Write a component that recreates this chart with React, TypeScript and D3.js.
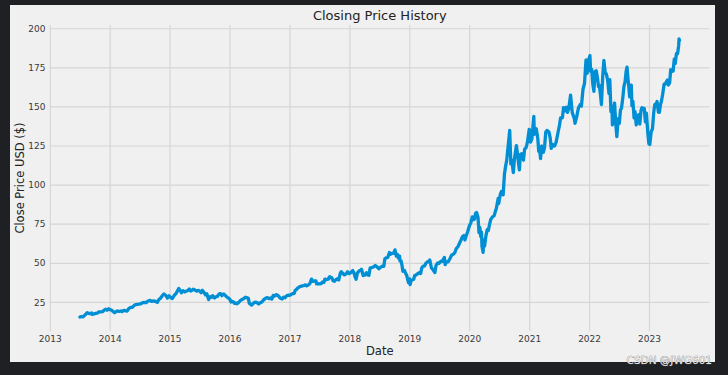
import React from "react";
import * as d3 from "d3";

const dates: string[] = [
"2013-07-01","2013-07-10","2013-07-19","2013-07-26","2013-08-05","2013-08-14","2013-08-23","2013-08-30","2013-09-10","2013-09-13","2013-09-25","2013-10-04","2013-10-16","2013-10-25","2013-11-05","2013-11-15","2013-11-29","2013-12-05","2013-12-13","2013-12-23","2013-12-31",
"2014-01-08","2014-01-17","2014-01-28","2014-02-05","2014-02-14","2014-02-25","2014-03-07","2014-03-14","2014-03-25","2014-04-03","2014-04-14","2014-04-24","2014-05-06","2014-05-16","2014-05-28","2014-06-06","2014-06-17","2014-06-27","2014-07-09","2014-07-18","2014-07-30","2014-08-08","2014-08-20","2014-09-02","2014-09-10","2014-09-22","2014-10-03","2014-10-15","2014-10-24","2014-11-05","2014-11-14","2014-11-25","2014-12-05","2014-12-16","2014-12-26",
"2015-01-06","2015-01-15","2015-01-22","2015-01-28","2015-02-06","2015-02-13","2015-02-23","2015-03-05","2015-03-11","2015-03-20","2015-03-31","2015-04-10","2015-04-20","2015-04-28","2015-05-07","2015-05-15","2015-05-22","2015-06-02","2015-06-12","2015-06-23","2015-07-01","2015-07-09","2015-07-17","2015-07-28","2015-08-05","2015-08-13","2015-08-24","2015-08-31","2015-09-09","2015-09-17","2015-09-29","2015-10-08","2015-10-16","2015-10-28","2015-11-05","2015-11-13","2015-11-24","2015-12-03","2015-12-14","2015-12-22","2015-12-31",
"2016-01-07","2016-01-14","2016-01-22","2016-01-28","2016-02-05","2016-02-11","2016-02-22","2016-03-04","2016-03-15","2016-03-24","2016-04-04","2016-04-14","2016-04-22","2016-04-28","2016-05-06","2016-05-12","2016-05-24","2016-06-03","2016-06-13","2016-06-24","2016-07-05","2016-07-15","2016-07-27","2016-08-05","2016-08-16","2016-08-26","2016-09-06","2016-09-12","2016-09-21","2016-09-30","2016-10-10","2016-10-19","2016-10-26","2016-11-04","2016-11-14","2016-11-23","2016-12-02","2016-12-13","2016-12-22","2016-12-30",
"2017-01-09","2017-01-19","2017-01-27","2017-02-01","2017-02-10","2017-02-17","2017-02-27","2017-03-08","2017-03-16","2017-03-27","2017-04-05","2017-04-13","2017-04-24","2017-05-03","2017-05-12","2017-05-19","2017-05-31","2017-06-08","2017-06-12","2017-06-23","2017-06-30","2017-07-10","2017-07-19","2017-07-27","2017-08-02","2017-08-10","2017-08-21","2017-08-31","2017-09-12","2017-09-21","2017-09-28","2017-10-06","2017-10-16","2017-10-25","2017-11-03","2017-11-09","2017-11-20","2017-11-29","2017-12-08","2017-12-18","2017-12-28",
"2018-01-08","2018-01-18","2018-01-26","2018-02-02","2018-02-08","2018-02-16","2018-02-27","2018-03-09","2018-03-13","2018-03-23","2018-04-02","2018-04-12","2018-04-20","2018-04-27","2018-05-04","2018-05-14","2018-05-24","2018-06-05","2018-06-15","2018-06-27","2018-07-06","2018-07-17","2018-07-27","2018-08-02","2018-08-10","2018-08-20","2018-08-30","2018-09-07","2018-09-14","2018-09-24","2018-10-03","2018-10-11","2018-10-17","2018-10-24","2018-10-31","2018-11-02","2018-11-09","2018-11-15","2018-11-20","2018-11-30","2018-12-06","2018-12-14","2018-12-21","2018-12-24","2018-12-31",
"2019-01-03","2019-01-10","2019-01-18","2019-01-25","2019-01-30","2019-02-08","2019-02-19","2019-02-28","2019-03-08","2019-03-15","2019-03-22","2019-04-01","2019-04-10","2019-04-22","2019-04-30","2019-05-03","2019-05-13","2019-05-22","2019-06-03","2019-06-10","2019-06-20","2019-06-28","2019-07-10","2019-07-19","2019-07-31","2019-08-05","2019-08-12","2019-08-23","2019-09-04","2019-09-13","2019-09-24","2019-10-03","2019-10-11","2019-10-22","2019-10-31","2019-11-08","2019-11-18","2019-11-27","2019-12-03","2019-12-12","2019-12-20","2019-12-31",
"2020-01-08","2020-01-17","2020-01-27","2020-01-31","2020-02-06","2020-02-12","2020-02-21","2020-02-27","2020-03-03","2020-03-09","2020-03-13","2020-03-16","2020-03-23","2020-03-26","2020-04-01","2020-04-09","2020-04-17","2020-04-24","2020-04-30","2020-05-08","2020-05-18","2020-05-29","2020-06-08","2020-06-12","2020-06-23","2020-06-26","2020-07-06","2020-07-13","2020-07-23","2020-07-31","2020-08-07","2020-08-14","2020-08-24","2020-09-01","2020-09-08","2020-09-14","2020-09-23","2020-09-30","2020-10-12","2020-10-21","2020-10-30","2020-11-05","2020-11-13","2020-11-24","2020-12-01","2020-12-10","2020-12-18","2020-12-29",
"2021-01-06","2021-01-14","2021-01-26","2021-01-29","2021-02-10","2021-02-19","2021-02-25","2021-03-04","2021-03-08","2021-03-15","2021-03-25","2021-04-01","2021-04-09","2021-04-16","2021-04-28","2021-05-06","2021-05-12","2021-05-21","2021-06-01","2021-06-11","2021-06-23","2021-07-01","2021-07-08","2021-07-19","2021-07-26","2021-08-04","2021-08-13","2021-08-19","2021-08-27","2021-09-07","2021-09-17","2021-09-30","2021-10-04","2021-10-14","2021-10-25","2021-11-05","2021-11-12","2021-11-22","2021-12-01","2021-12-10","2021-12-17","2021-12-27",
"2022-01-03","2022-01-07","2022-01-14","2022-01-20","2022-01-27","2022-02-03","2022-02-10","2022-02-18","2022-02-24","2022-03-01","2022-03-08","2022-03-14","2022-03-22","2022-03-29","2022-04-06","2022-04-13","2022-04-21","2022-04-29","2022-05-04","2022-05-11","2022-05-17","2022-05-20","2022-05-26","2022-06-02","2022-06-10","2022-06-16","2022-06-24","2022-07-01","2022-07-08","2022-07-14","2022-07-22","2022-07-29","2022-08-05","2022-08-12","2022-08-17","2022-08-23","2022-08-29","2022-09-02","2022-09-12","2022-09-16","2022-09-22","2022-09-29","2022-10-05","2022-10-12","2022-10-19","2022-10-27","2022-11-03","2022-11-10","2022-11-16","2022-11-25","2022-11-30","2022-12-07","2022-12-13","2022-12-22","2022-12-28",
"2023-01-03","2023-01-11","2023-01-19","2023-01-27","2023-02-02","2023-02-10","2023-02-16","2023-02-24","2023-03-02","2023-03-09","2023-03-15","2023-03-22","2023-03-31","2023-04-06","2023-04-13","2023-04-20","2023-04-26","2023-05-04","2023-05-10","2023-05-17","2023-05-25","2023-06-01","2023-06-07","2023-06-14","2023-06-21","2023-06-28","2023-06-30","2023-07-03"
];

const closes: number[] = [
15.6,16.0,15.7,16.4,17.4,18.4,18.0,17.8,18.2,17.3,17.6,18.0,18.2,19.0,18.9,19.1,20.3,20.6,20.0,20.9,20.4,
20.1,19.3,18.4,19.0,19.5,19.2,19.5,19.1,19.9,19.7,19.4,21.0,21.8,21.9,23.1,23.6,23.8,23.9,24.2,24.8,25.0,24.8,25.9,26.3,25.6,26.0,25.7,25.0,26.7,27.8,29.2,30.4,29.6,27.8,29.2,
28.0,27.5,28.7,29.8,30.6,32.0,33.9,32.4,31.2,32.5,31.7,32.2,32.6,33.6,32.3,32.7,33.5,32.9,32.2,32.7,32.2,31.2,32.7,31.2,29.9,30.5,26.8,28.6,28.2,29.3,27.8,28.6,28.8,30.5,30.6,29.3,30.4,29.5,28.4,27.8,27.1,
25.3,25.6,25.4,24.4,24.6,24.1,24.9,26.1,26.9,27.3,28.3,28.0,27.6,24.4,23.7,23.3,24.6,25.1,25.0,24.0,24.8,25.4,26.9,27.6,28.1,27.4,27.8,27.1,29.5,29.1,30.0,29.4,28.7,27.6,27.2,28.4,28.0,29.4,29.6,29.5,
30.2,30.6,30.8,32.6,33.3,34.2,34.9,35.2,35.6,35.8,36.2,35.6,36.2,37.2,39.9,38.5,38.8,38.8,36.8,37.0,36.8,37.0,38.1,37.8,39.9,39.5,39.8,41.4,40.8,38.8,38.5,39.4,40.1,39.3,43.4,44.6,43.4,42.6,43.1,44.6,43.4,
44.2,45.4,43.8,41.2,39.8,43.9,45.2,45.6,46.2,42.2,42.4,44.0,42.6,42.3,46.9,47.3,47.6,48.6,47.8,46.5,47.4,48.1,48.1,52.9,53.5,53.8,56.9,55.8,56.4,56.3,58.6,54.6,55.8,53.4,54.6,51.6,51.6,48.4,44.9,45.4,43.8,42.0,38.9,37.7,40.0,
36.4,39.2,39.5,39.8,42.0,42.5,43.4,44.0,43.4,47.0,48.0,48.3,50.2,51.2,50.8,52.1,47.0,46.0,44.1,48.7,50.2,50.0,51.3,51.3,53.8,49.1,50.9,51.0,53.2,55.2,55.9,56.9,59.3,60.7,62.8,64.6,67.0,67.8,64.9,67.9,70.4,74.2,
75.8,79.7,78.0,78.4,82.0,82.5,79.3,69.6,73.0,67.0,70.0,61.0,57.0,65.0,61.0,67.6,71.5,71.0,74.3,77.9,79.6,80.4,84.0,85.3,91.5,88.2,94.2,96.0,93.8,107.1,112.0,116.0,126.5,135.0,113.6,116.0,108.0,116.8,125.3,117.5,109.7,119.6,120.0,116.0,123.0,124.0,127.5,135.7,
127.5,129.5,144.0,132.5,136.0,130.0,121.6,121.0,117.0,125.0,121.0,124.0,134.0,135.0,134.0,130.0,123.5,126.0,125.0,127.5,134.0,138.0,143.0,143.0,149.5,147.5,149.8,146.5,149.0,157.5,146.5,142.5,139.5,143.5,149.5,151.5,150.5,161.5,165.0,180.0,171.5,180.5,
182.8,172.8,174.0,165.0,160.0,172.5,173.2,168.5,163.0,163.8,158.0,151.5,169.5,179.8,172.0,171.1,167.0,158.5,167.5,147.0,150.5,138.5,144.5,152.5,138.5,131.0,142.5,139.5,148.0,149.0,155.5,163.0,166.0,173.0,175.5,168.0,161.5,156.5,164.0,150.8,153.5,143.0,147.0,138.5,144.0,145.0,139.0,147.5,149.5,149.0,149.0,140.5,146.0,133.0,126.5,
126.0,134.0,136.0,146.5,151.5,151.8,153.5,146.8,146.5,151.5,153.8,158.0,164.5,164.5,166.0,167.2,164.0,165.5,173.8,172.6,173.0,180.5,177.8,184.0,184.0,189.5,193.5,192.5
];

const yearTicks: number[] = [2013, 2014, 2015, 2016, 2017, 2018, 2019, 2020, 2021, 2022, 2023];
const priceTicks: number[] = [25, 50, 75, 100, 125, 150, 175, 200];

const title = "Closing Price History";
const xLabel = "Date";
const yLabel = "Close Price USD ($)";
const watermark = "CSDN @JWG601";

const W = 728;
const H = 375;
const plot = { left: 50, right: 709.5, top: 25, bottom: 331 };
const FONT = "'DejaVu Sans', Verdana, sans-serif";

export default function App() {
  const parse = d3.utcParse("%Y-%m-%d");
  const data = dates.map((d, i) => ({ date: parse(d) as Date, value: closes[i] }));

  const [t0, t1] = d3.extent(data, (d) => d.date.getTime()) as [number, number];
  const tPad = (t1 - t0) * 0.05;
  const x = d3
    .scaleUtc()
    .domain([new Date(t0 - tPad), new Date(t1 + tPad)])
    .range([plot.left, plot.right]);

  const [v0, v1] = d3.extent(data, (d) => d.value) as [number, number];
  const vPad = (v1 - v0) * 0.05;
  const y = d3.scaleLinear().domain([v0 - vPad, v1 + vPad]).range([plot.bottom, plot.top]);

  const line = d3
    .line<{ date: Date; value: number }>()
    .x((d) => x(d.date))
    .y((d) => y(d.value));

  const yearX = (yr: number) => x(new Date(Date.UTC(yr, 0, 1)));
  const cx = (plot.left + plot.right) / 2;
  const cy = (plot.top + plot.bottom) / 2;

  return (
    <svg
      width={W}
      height={H}
      style={{ position: "absolute", left: 0, top: 0, display: "block" }}
      fontFamily={FONT}
    >
      <rect x={0} y={0} width={W} height={H} fill="#1f2023" />
      <rect x={10} y={5} width={705} height={357} fill="#f0f0f0" />

      {priceTicks.map((v) => (
        <line
          key={"hg" + v}
          x1={plot.left}
          x2={plot.right}
          y1={y(v)}
          y2={y(v)}
          stroke="#d6d6d6"
          strokeWidth={1.2}
        />
      ))}
      {yearTicks.map((yr) => (
        <line
          key={"vg" + yr}
          x1={yearX(yr)}
          x2={yearX(yr)}
          y1={plot.top}
          y2={plot.bottom}
          stroke="#d6d6d6"
          strokeWidth={1.2}
        />
      ))}

      <path
        d={line(data) || ""}
        fill="none"
        stroke="#008fd5"
        strokeWidth={3.3}
        strokeLinejoin="round"
        strokeLinecap="round"
      />

      {priceTicks.map((v) => (
        <text
          key={"yt" + v}
          x={45.5}
          y={y(v)}
          dy="0.35em"
          textAnchor="end"
          fontSize={9}
          fill="#3a3a3a"
        >
          {v}
        </text>
      ))}
      {yearTicks.map((yr) => (
        <text
          key={"xt" + yr}
          x={yearX(yr)}
          y={341.5}
          textAnchor="middle"
          fontSize={9}
          fill="#3a3a3a"
        >
          {yr}
        </text>
      ))}

      <text x={cx} y={19.5} textAnchor="middle" fontSize={13} fill="#222">
        {title}
      </text>
      <text x={cx} y={355} textAnchor="middle" fontSize={11.5} fill="#222">
        {xLabel}
      </text>
      <text
        transform={`translate(24,${cy}) rotate(-90)`}
        textAnchor="middle"
        fontSize={11.5}
        fill="#222"
      >
        {yLabel}
      </text>

      <text
        x={712}
        y={364}
        textAnchor="end"
        fontSize={10.5}
        fill="#e8e8e8"
        stroke="#6a6a6a"
        strokeWidth={0.5}
        paintOrder="stroke"
      >
        {watermark}
      </text>
    </svg>
  );
}
